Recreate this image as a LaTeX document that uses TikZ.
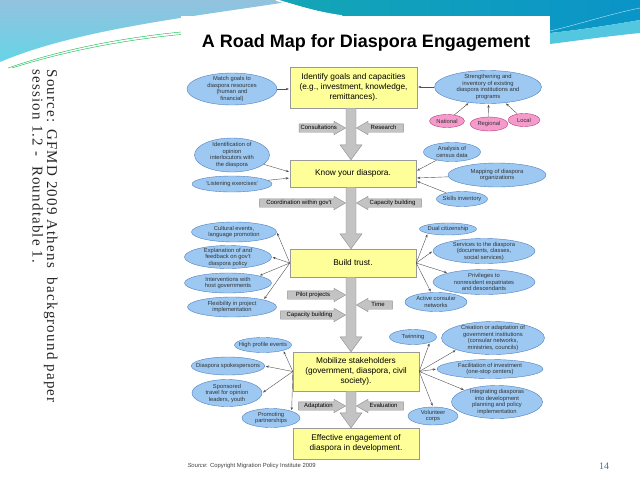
\documentclass[tikz,border=0pt]{standalone}
\usepackage{fontspec}
\setmainfont{Liberation Serif}
\setsansfont{Liberation Sans}
\usepackage{tikz}
\usetikzlibrary{shapes.geometric,shapes.arrows,arrows.meta,calc}

\definecolor{boxfill}{HTML}{FFFF99}
\definecolor{boxborder}{HTML}{9A9A9A}
\definecolor{ellfill}{HTML}{9CC8F2}
\definecolor{ellborder}{HTML}{4F7FBF}
\definecolor{pinkfill}{HTML}{F59BCB}
\definecolor{pinkborder}{HTML}{B8407A}
\definecolor{bargray}{HTML}{C3C3C3}
\definecolor{barborder}{HTML}{8C8C8C}
\definecolor{linkgray}{HTML}{505050}
\definecolor{slideblue}{HTML}{92C2DE}
\definecolor{slidecyan}{HTML}{66D4E6}
\definecolor{slideteal}{HTML}{14A6B6}
\definecolor{slidedeep}{HTML}{0A94C8}
\definecolor{pagenum}{HTML}{50708C}

% gray column piece between two steps
\newcommand{\colseg}[2]{%
  \draw[colbar] let \p1=(#1.south), \p2=(#2.north) in
    (346pt,\y1) -- (346pt,\y2+15pt) -- (340pt,\y2+15pt) -- (351pt,\y2)
    -- (362pt,\y2+15pt) -- (356pt,\y2+15pt) -- (356pt,\y1) -- cycle;}

\begin{document}
\begin{tikzpicture}[x=1pt, y=-1pt,
    stepbox/.style={draw=boxborder, fill=boxfill, align=center, inner sep=1pt,
      font=\sffamily\fontsize{8.3}{9.7}\selectfont},
    idea/.style={ellipse, draw=ellborder, fill=ellfill, align=center,
      inner xsep=-6pt, inner ysep=-1.5pt,
      text=black!80, font=\sffamily\fontsize{5.8}{6.5}\selectfont},
    level/.style={idea, draw=pinkborder, fill=pinkfill},
    esize/.style 2 args={minimum width=#1, minimum height=#2},
    sidearrow/.style={single arrow, draw=barborder, fill=bargray, anchor=tip,
      single arrow head extend=2.5pt, single arrow tip angle=60,
      inner sep=1.2pt, text height=4.3pt, text depth=1.3pt,
      font=\sffamily\fontsize{6}{7}\selectfont},
    toleft/.style={sidearrow, shape border rotate=180},
    colbar/.style={draw=barborder, fill=bargray},
    link/.style={draw=linkgray, line width=0.4pt, shorten >=1pt,
      -{Stealth[length=3pt,width=2.4pt]}}]
    \useasboundingbox (0,0) rectangle (640,480);

    % Slide background
    \fill[white] (0,0) rectangle (640,480);
    \shade[top color=slideblue, bottom color=slidecyan]
      (0,0) -- (300,0) .. controls (200,16) and (80,28) .. (0,62) -- cycle;
    \shade[left color=slideteal, right color=slidedeep]
      (280,0) -- (640,0) -- (640,20) .. controls (600,27) and (570,31) .. (550,33)
      -- (550,16) -- (340,16) .. controls (312,10) and (295,5) .. (280,0) -- cycle;
    \fill[slidecyan!80!slidedeep] (550,33) .. controls (570,31) and (600,27) .. (640,20)
      -- (640,33) .. controls (600,37) and (575,41) .. (550,44) -- cycle;
    \draw[white, line width=1.5pt] (276,0) .. controls (296,6) and (314,12) .. (342,16);
    \draw[green!45!teal, line width=0.4pt] (8,68) .. controls (60,50) and (120,38) .. (181,32);
    \draw[green!45!teal, line width=0.4pt] (12,68) .. controls (62,52) and (122,40) .. (181,34.5);
    \draw[cyan!30, line width=0.4pt] (550,31) .. controls (580,24) and (610,14) .. (640,8);
    \fill[white] (181,16) rectangle (550,476);

    % Title and sources
    \node[font=\sffamily\bfseries\fontsize{18}{20}\selectfont] (title) at (366,43)
      {A Road Map for Diaspora Engagement};
    \node[anchor=west, font=\sffamily\fontsize{5.9}{7}\selectfont, text=black!75] (mpi) at (184,466)
      {\textit{Source}: Copyright Migration Policy Institute 2009};
    \node[font=\fontsize{10}{12}\selectfont, text=pagenum] (pagenr) at (604,466) {14};
    \node[rotate=-90, anchor=north west, align=left, text=black!85,
      font=\fontsize{15}{14.5}\selectfont\addfontfeature{LetterSpace=8}] (gfmd) at (61,66)
      {Source: GFMD 2009 Athens\ \ background paper\\session 1.2 -\ \ Roundtable 1.};

    % Steps of the road map
    \node[stepbox, esize={127}{41}] (goals) at (353.5,87.5)
      {Identify goals and capacities\\(e.g., investment, knowledge,\\remittances).};
    \node[stepbox, esize={126}{27}] (know) at (353,173.5) {Know your diaspora.};
    \node[stepbox, esize={126}{28}] (trust) at (353,263) {Build trust.};
    \node[stepbox, esize={126}{39}] (mobil) at (356,371.5)
      {Mobilize stakeholders\\(government, diaspora, civil\\society).};
    \node[stepbox, esize={126}{31}] (effect) at (356,443.5)
      {Effective engagement of\\diaspora in development.};

    % Main column
    \colseg{goals}{know}
    \colseg{know}{trust}
    \colseg{trust}{mobil}
    \colseg{mobil}{effect}

    % Side inputs to the column
    \node[sidearrow, minimum height=46] (consult) at (346,128) {Consultations};
    \node[toleft, minimum height=47] (research) at (356,128) {Research};
    \node[sidearrow, minimum height=86] (coord) at (346,203) {Coordination within gov't};
    \node[toleft, minimum height=65] (capone) at (356,203) {Capacity building};
    \node[sidearrow, minimum height=58] (pilot) at (346,295) {Pilot projects};
    \node[toleft, minimum height=36] (time) at (356,305) {Time};
    \node[sidearrow, minimum height=65] (captwo) at (346,315) {Capacity building};
    \node[sidearrow, minimum height=47] (adapt) at (346,406) {Adaptation};
    \node[toleft, minimum height=47] (evalu) at (356,406) {Evaluation};

    % Identify goals
    \node[idea, esize={90}{32}] (match) at (232,89)
      {Match goals to\\diaspora resources\\(human and\\financial)};
    \node[idea, esize={107}{33}] (strength) at (488,87)
      {Strengthening and\\inventory of existing\\diaspora institutions and\\programs};
    \node[level, esize={35}{13}] (national) at (447,121) {National};
    \node[level, esize={38}{14}] (regional) at (489,124) {Regional};
    \node[level, esize={32}{13}] (local) at (524,120) {Local};
    \draw[link] (match.east) -- (match.east -| goals.west);
    \draw[link] (strength.west) -- (strength.west -| goals.east);
    \draw[link] (national) -- (strength);
    \draw[link] (regional) -- (strength);
    \draw[link] (local) -- (strength);

    % Know your diaspora
    \node[idea, esize={75}{34}] (ident) at (232,155)
      {Identification of\\opinion\\interlocutors with\\the diaspora};
    \node[idea, esize={80}{16}] (listen) at (232,184) {`Listening exercises'};
    \node[idea, esize={57}{19}] (census) at (452,152) {Analysis of\\census data};
    \node[idea, esize={98}{24}] (mapping) at (497,175) {Mapping of diaspora\\organizations};
    \node[idea, esize={51}{15}] (skills) at (462,199) {Skills inventory};
    \draw[link] (ident) -- ([yshift=1.5pt]know.west);
    \draw[link] (listen) -- ([yshift=-4.5pt]know.west);
    \draw[link] (census) -- ([yshift=2.5pt]know.east);
    \draw[link] (mapping) -- ([yshift=-4.5pt]know.east);
    \draw[link] (skills) -- ([yshift=-7.5pt]know.east);

    % Build trust
    \node[idea, esize={85}{20}] (cultural) at (234,232) {Cultural events,\\language promotion};
    \node[idea, esize={87}{23}] (explain) at (228,257)
      {Explanation of and\\feedback on gov't\\diaspora policy};
    \node[idea, esize={87}{20}] (interv) at (228,283) {Interventions with\\host governments};
    \node[idea, esize={89}{20}] (flexib) at (232,307) {Flexibility in project\\implementation};
    \node[idea, esize={57}{12}] (dual) at (448,229) {Dual citizenship};
    \node[idea, esize={102}{25}] (services) at (484,251)
      {Services to the diaspora\\(documents, classes,\\social services)};
    \node[idea, esize={102}{25}] (privil) at (484,282)
      {Privileges to\\nonresident expatriates\\and descendants};
    \node[idea, esize={62}{19}] (consular) at (436,302) {Active consular\\networks};
    \draw[link] (trust.west) -- (cultural.east);
    \draw[link] (trust.west) -- (explain.east);
    \draw[link] (trust.west) -- (interv.north east);
    \draw[link] (trust.west) -- (flexib.north east);
    \draw[link] (trust.east) -- (dual.south west);
    \draw[link] (trust.east) -- (services.west);
    \draw[link] (trust.east) -- (privil.north west);
    \draw[link] (trust.east) -- (consular);

    % Mobilize stakeholders
    \node[idea, esize={57}{15}] (highprof) at (263,345) {High profile events};
    \node[idea, esize={73}{18}] (spokes) at (228,366) {Diaspora spokespersons};
    \node[idea, esize={70}{27}] (sponsor) at (227,393)
      {Sponsored\\travel for opinion\\leaders, youth};
    \node[idea, esize={58}{19}] (promot) at (271,418) {Promoting\\partnerships};
    \node[idea, esize={47}{15}] (twin) at (413,337) {Twinning};
    \node[idea, esize={103}{33}] (creation) at (493,338)
      {Creation or adaptation of\\government institutions\\(consular networks,\\ministries, councils)};
    \node[idea, esize={106}{19}] (facilit) at (490,369)
      {Facilitation of investment\\(one-stop centers)};
    \node[idea, esize={91}{33}] (integr) at (497,402)
      {Integrating diasporas\\into development\\planning and policy\\implementation};
    \node[idea, esize={50}{18}] (volunt) at (433,416) {Volunteer\\corps};
    \draw[link] (mobil.west) -- (highprof.south east);
    \draw[link] (mobil.west) -- (spokes.east);
    \draw[link] (mobil.west) -- (sponsor.east);
    \draw[link] (mobil.west) -- (promot.north east);
    \draw[link] (mobil.east) -- (twin.south east);
    \draw[link] (mobil.east) -- (creation.south west);
    \draw[link] (mobil.east) -- (facilit.west);
    \draw[link] (mobil.east) -- (integr.north west);
    \draw[link] (mobil.east) -- (volunt.north);
\end{tikzpicture}
\end{document}
